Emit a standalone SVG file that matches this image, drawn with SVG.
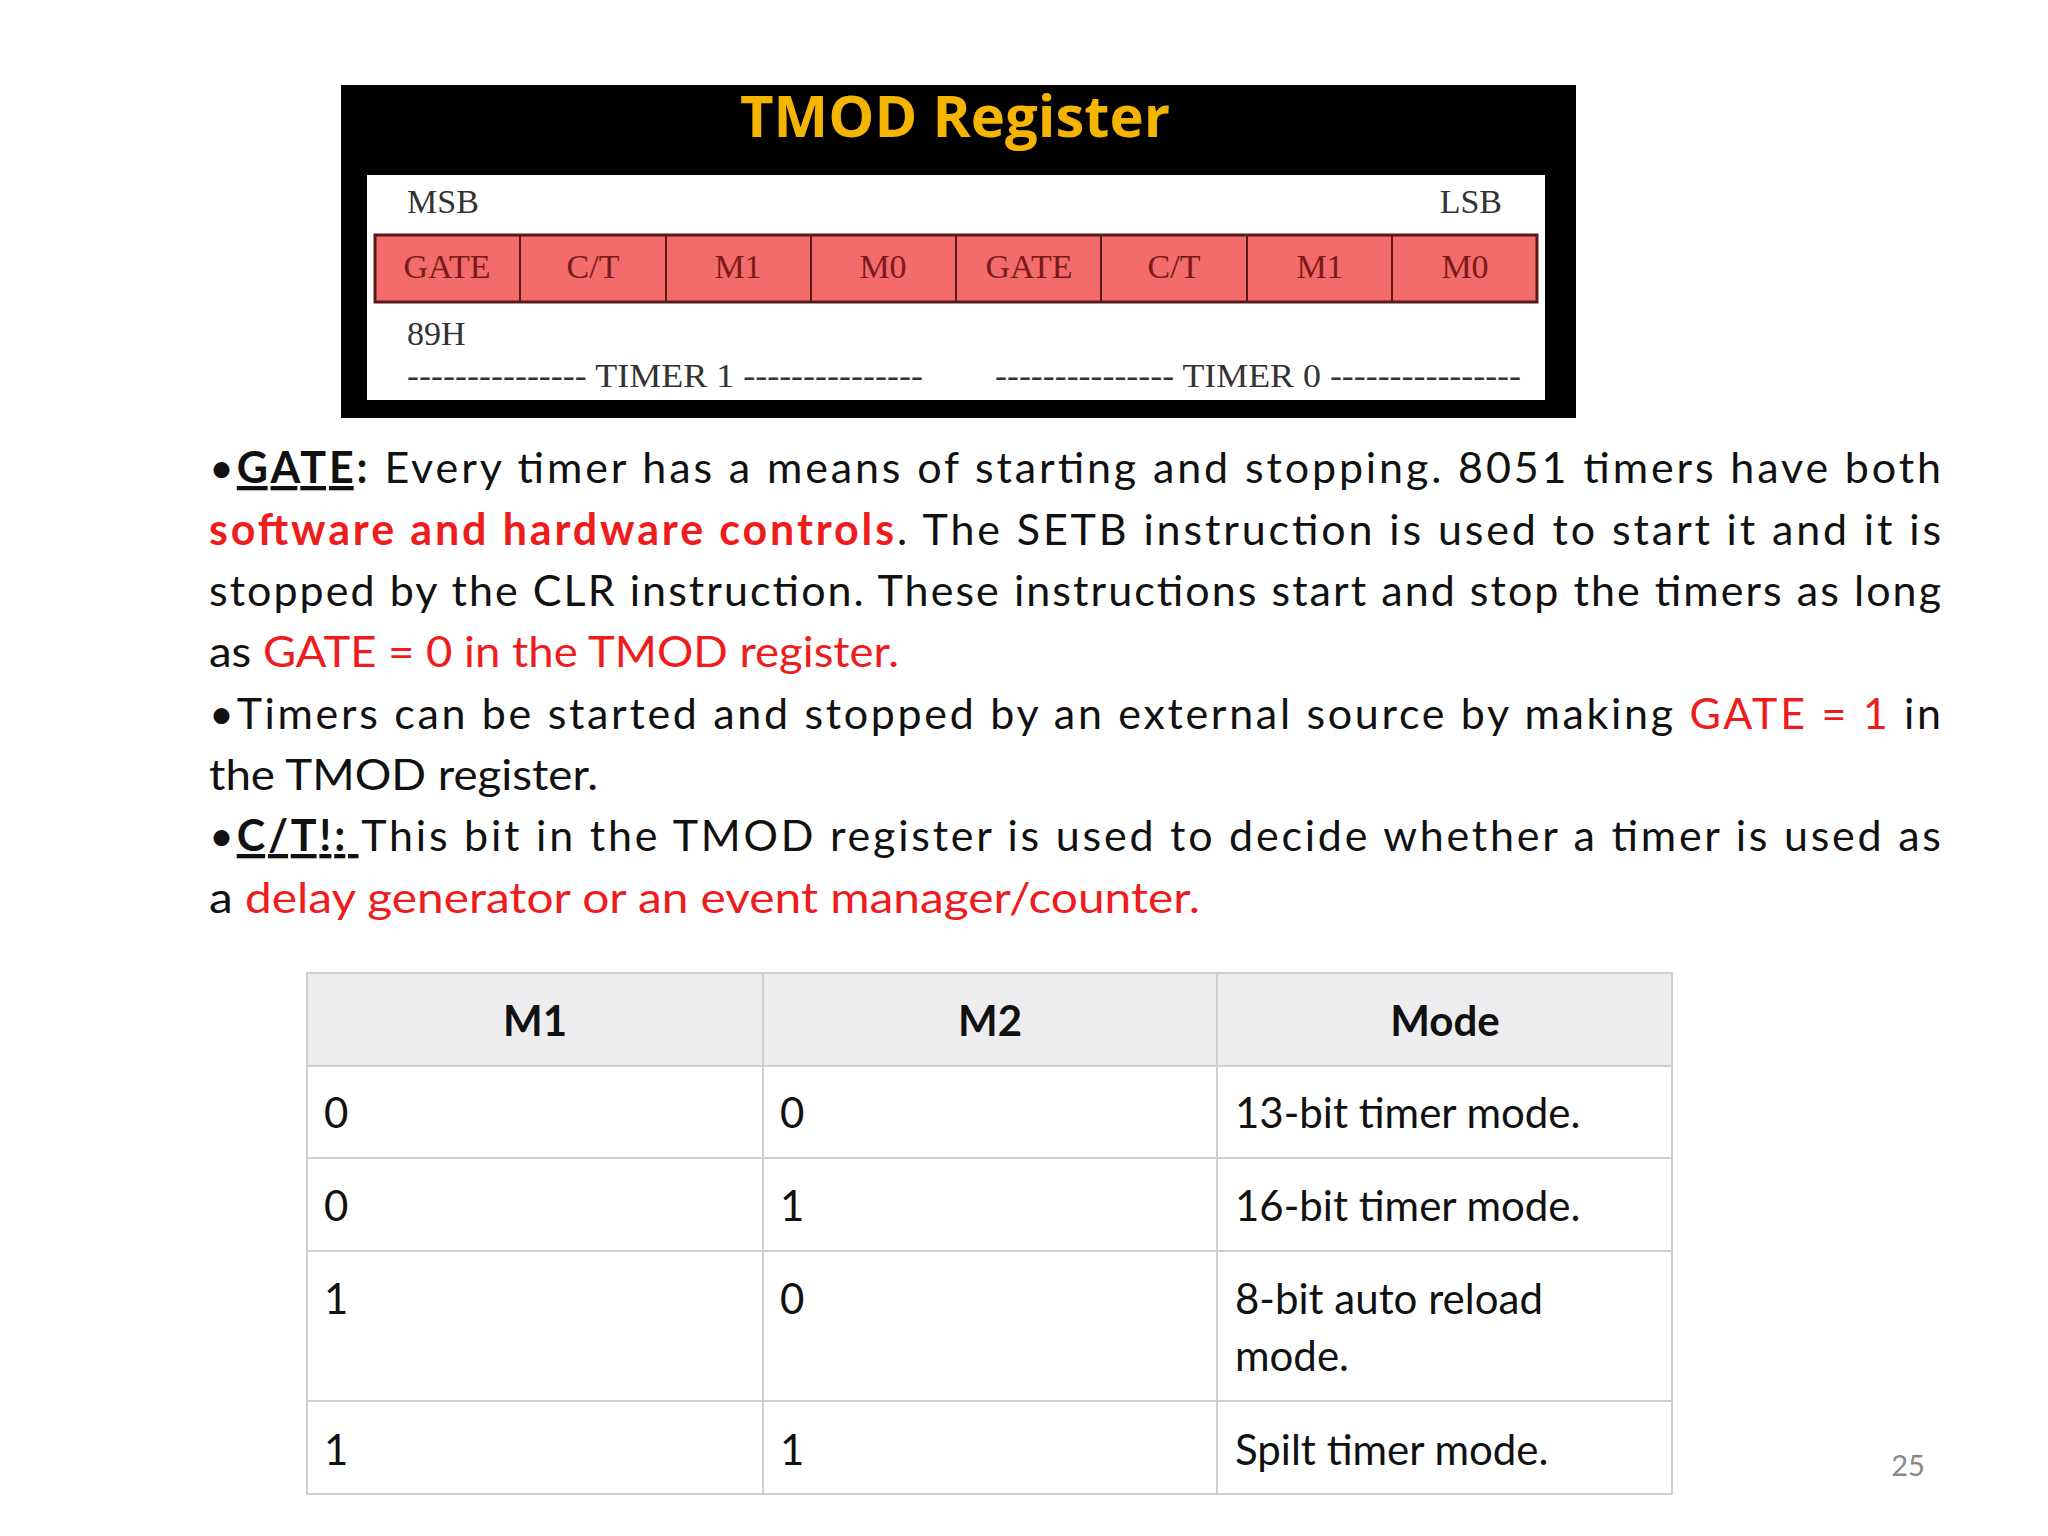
<svg xmlns="http://www.w3.org/2000/svg" width="2048" height="1536" viewBox="0 0 2048 1536">
<style>
.ser{font-family:"Liberation Serif","DejaVu Serif",serif;font-size:34px}
.cell{font-family:"Liberation Serif",serif;font-size:34px;fill:#7a1a1a;text-anchor:middle}
.p{font-family:Lato,"Open Sans",sans-serif;font-size:43px;fill:#111}
.r{fill:#ee1c1c}
.b{font-weight:bold}
.u{text-decoration:underline}
.t{font-family:Lato,"Open Sans",sans-serif;font-size:42px;fill:#111}
.th{font-weight:bold;text-anchor:middle}
.line{stroke:#cfcfcf;stroke-width:2;fill:none}
</style>
<rect width="2048" height="1536" fill="#fff"/>
<g id="register">
<rect x="341" y="85" width="1235" height="333" fill="#000"/>
<text x="955" y="137" text-anchor="middle" font-family="'Open Sans',Lato,sans-serif" font-weight="bold" font-size="58" fill="#f5b400">TMOD Register</text>
<rect x="367" y="175" width="1178" height="225" fill="#fff"/>
<text class="ser" x="407" y="213" fill="#333">MSB</text>
<text class="ser" x="1502" y="213" fill="#333" text-anchor="end">LSB</text>
<rect x="375" y="235" width="1162" height="67" fill="#f36b6b" stroke="#5a1a1a" stroke-width="3"/>
<g stroke="#5a1a1a" stroke-width="2">
<line x1="520" y1="235" x2="520" y2="302"/><line x1="666" y1="235" x2="666" y2="302"/><line x1="811" y1="235" x2="811" y2="302"/><line x1="956" y1="235" x2="956" y2="302"/><line x1="1101" y1="235" x2="1101" y2="302"/><line x1="1247" y1="235" x2="1247" y2="302"/><line x1="1392" y1="235" x2="1392" y2="302"/>
</g>
<text class="cell" x="447" y="278">GATE</text><text class="cell" x="593" y="278">C/T</text><text class="cell" x="738" y="278">M1</text><text class="cell" x="883" y="278">M0</text>
<text class="cell" x="1029" y="278">GATE</text><text class="cell" x="1174" y="278">C/T</text><text class="cell" x="1320" y="278">M1</text><text class="cell" x="1465" y="278">M0</text>
<text class="ser" x="407" y="345" fill="#333">89H</text>
<text class="ser" x="407" y="387" fill="#333" textLength="516" lengthAdjust="spacingAndGlyphs">--------------- TIMER 1 ---------------</text>
<text class="ser" x="995" y="387" fill="#333" textLength="526" lengthAdjust="spacingAndGlyphs">--------------- TIMER 0 ----------------</text>
</g>
<g id="text">
<text class="p" x="209" y="483" textLength="1732" lengthAdjust="spacing">•<tspan class="b u">GATE</tspan><tspan class="b">:</tspan> Every timer has a means of starting and stopping. 8051 timers have both</text>
<text class="p" x="209" y="545" textLength="1732" lengthAdjust="spacing"><tspan class="r b">software and hardware controls</tspan>.  The SETB instruction is used to start it and it is</text>
<text class="p" x="209" y="606" textLength="1732" lengthAdjust="spacing">stopped by the CLR instruction. These instructions start and stop the timers as long</text>
<text class="p" x="209" y="667" textLength="690" lengthAdjust="spacingAndGlyphs">as <tspan class="r">GATE = 0 in the TMOD register.</tspan></text>
<text class="p" x="209" y="729" textLength="1732" lengthAdjust="spacing">•Timers can be started and stopped by an external source by making <tspan class="r">GATE = 1</tspan> in</text>
<text class="p" x="209" y="790" textLength="389" lengthAdjust="spacingAndGlyphs">the TMOD register.</text>
<text class="p" x="209" y="851" textLength="1732" lengthAdjust="spacing">•<tspan class="b u">C/T!: </tspan>This bit in the TMOD register is used to decide whether a timer is used as</text>
<text class="p" x="209" y="913" textLength="991" lengthAdjust="spacingAndGlyphs">a <tspan class="r">delay generator or an event manager/counter.</tspan></text>
</g>
<g id="table">
<rect x="307" y="973" width="1365" height="93" fill="#ededef"/>
<rect x="307" y="973" width="1365" height="521" class="line"/>
<line class="line" x1="763" y1="973" x2="763" y2="1494"/><line class="line" x1="1217" y1="973" x2="1217" y2="1494"/>
<line class="line" x1="307" y1="1066" x2="1672" y2="1066"/><line class="line" x1="307" y1="1158" x2="1672" y2="1158"/><line class="line" x1="307" y1="1251" x2="1672" y2="1251"/><line class="line" x1="307" y1="1401" x2="1672" y2="1401"/>
<text class="t th" x="535" y="1036">M1</text><text class="t th" x="990" y="1036">M2</text><text class="t th" x="1445" y="1036">Mode</text>
<text class="t" x="324" y="1128">0</text><text class="t" x="780" y="1128">0</text><text class="t" x="1235" y="1128">13-bit timer mode.</text>
<text class="t" x="324" y="1221">0</text><text class="t" x="780" y="1221">1</text><text class="t" x="1235" y="1221">16-bit timer mode.</text>
<text class="t" x="324" y="1314">1</text><text class="t" x="780" y="1314">0</text><text class="t" x="1235" y="1314">8-bit auto reload</text><text class="t" x="1235" y="1371">mode.</text>
<text class="t" x="324" y="1465">1</text><text class="t" x="780" y="1465">1</text><text class="t" x="1235" y="1465">Spilt timer mode.</text>
</g>
<text x="1908" y="1476" text-anchor="middle" font-family="Lato,sans-serif" font-size="29" fill="#888">25</text>
</svg>
